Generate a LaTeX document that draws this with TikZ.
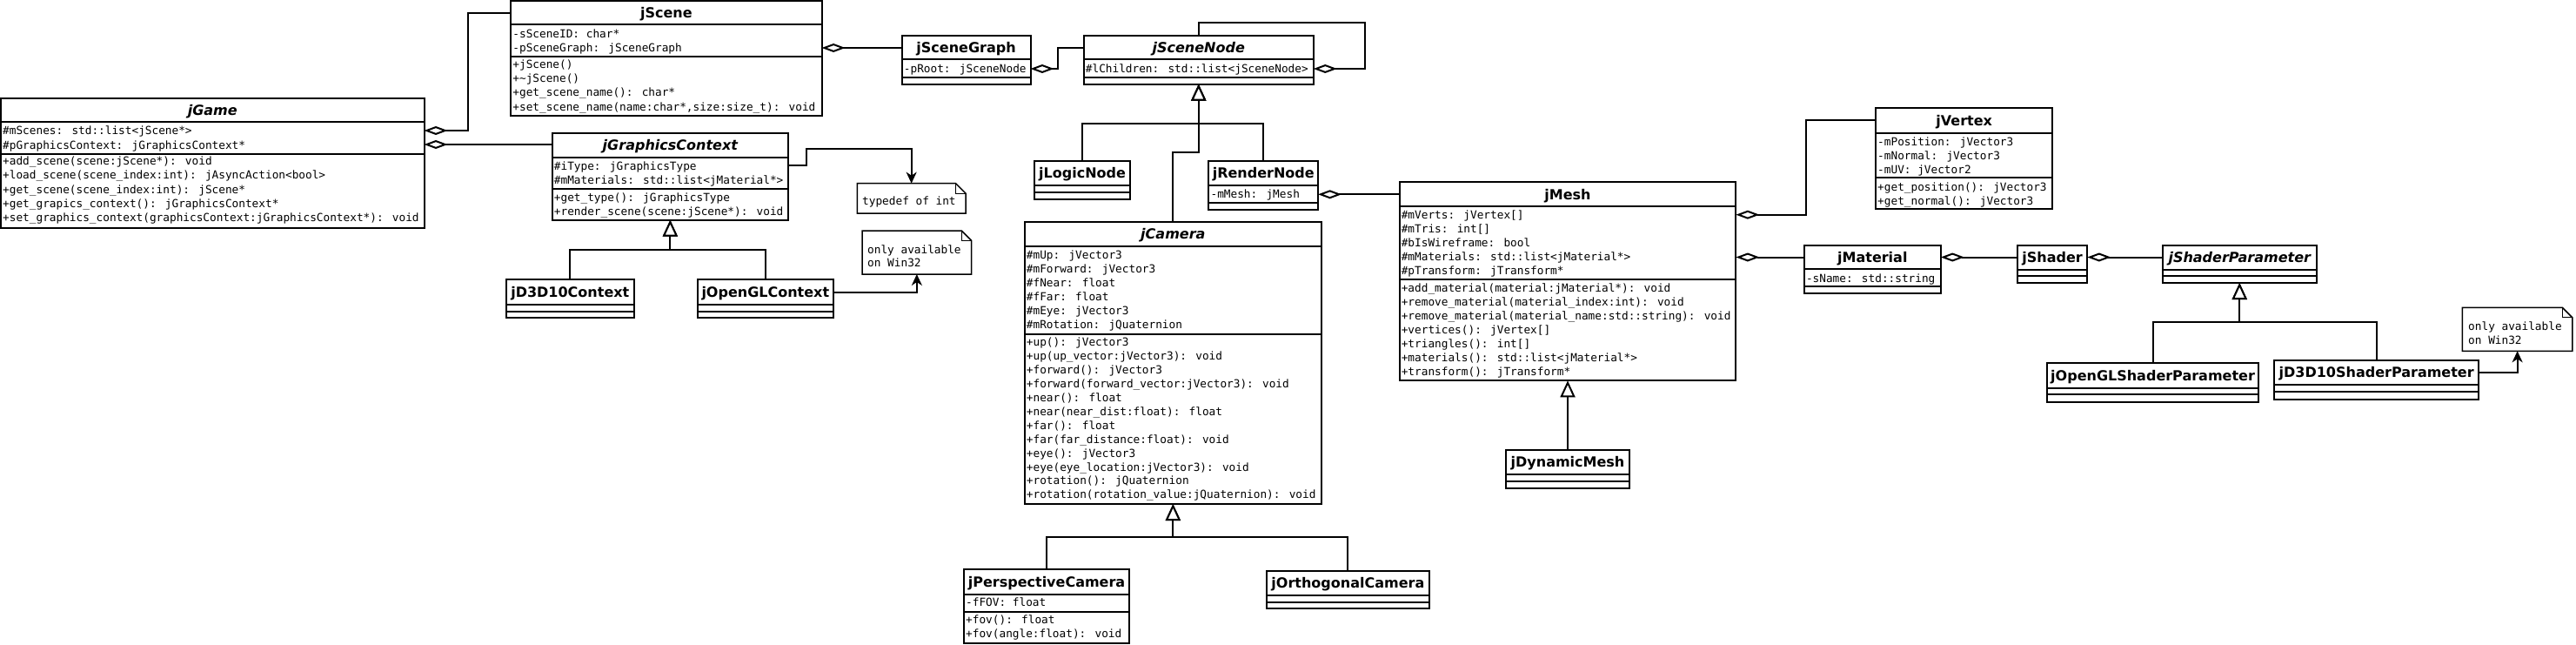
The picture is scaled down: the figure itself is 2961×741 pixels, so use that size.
\documentclass[tikz,border=0pt]{standalone}
\usepackage{fontspec}
\setmainfont{DejaVu Sans}[BoldFont={DejaVu Sans Bold},ItalicFont={DejaVu Sans Oblique},BoldItalicFont={DejaVu Sans Bold Oblique}]
\newfontfamily\monof{DejaVu Sans Mono}
\usetikzlibrary{arrows.meta}
\tikzset{
  box/.style={draw, line width=2pt, outer sep=0pt, inner sep=0pt, fill=white},
  sepline/.style={line width=2pt},
  ttl/.style={anchor=base, inner sep=0pt, font=\fontsize{16}{19}\selectfont\bfseries},
  member/.style={anchor=base west, inner sep=0pt, font=\monof\fontsize{12.75}{15}\selectfont},
  conn/.style={line width=2pt},
  agg/.style={conn, {Diamond[open, fill=white, length=27pt, width=10pt, line width=2pt]}-},
  inh/.style={conn, -{Triangle[open, fill=white, length=19pt, width=17pt, line width=2pt]}},
  dep/.style={conn, -{Stealth[length=13pt, width=12pt, inset=4pt]}},
  notebox/.style={inner sep=0pt, outer sep=0pt},
  noteline/.style={line width=1.5pt, line join=miter},
}
% name, L, T, R, B, header bottom, attribute bottom, title
\newcommand\umlclass[8]{%
  \node[box, anchor=north west, minimum width={(#4)-(#2)}, minimum height={(#5)-(#3)}] (#1) at (#2,#3) {};
  \draw[sepline] (#1.west |- 0,#6) -- (#1.east |- 0,#6);
  \draw[sepline] (#1.west |- 0,#7) -- (#1.east |- 0,#7);
  \node[ttl] (#1-t) at ({((#2)+(#4))/2},{((#3)+(#6))/2+5.8}) {#8};
}
% prefix, x, first row centre y, row step, rows
\newcommand\umlrows[5]{%
  \foreach \rowtxt [count=\ri from 0] in {#5} {\node[member] (#1\ri) at (#2,{(#3)+4.6+\ri*(#4)}) {\rowtxt};}%
}
% name, L, T, R, B, fold
\newcommand\umlnote[6]{%
  \node[notebox, anchor=north west, minimum width={(#4)-(#2)}, minimum height={(#5)-(#3)}] (#1) at (#2,#3) {};
  \draw[noteline] (#1.north west) -- ([xshift=-#6pt]#1.north east) -- ([yshift=-#6pt]#1.north east) -- (#1.south east) -- (#1.south west) -- cycle;
  \draw[line width=1pt] ([xshift=-#6pt]#1.north east) |- ([yshift=-#6pt]#1.north east);
}
\begin{document}
\begin{tikzpicture}[x=1pt,y=-1pt]
\fill[white] (0,0) rectangle (2961,741);
\useasboundingbox (0,0) rectangle (2961,741);

% ---------------- classes ----------------
\umlclass{jGame}{1}{112.7}{487.5}{262}{140}{176.7}{\itshape jGame}
\umlrows{jGame-a}{3}{150}{16.5}{\#mScenes: std::list<jScene*>, \#pGraphicsContext: jGraphicsContext*}
\umlrows{jGame-m}{3}{185}{16.3}{+add\_scene(scene:jScene*): void, +load\_scene(scene\_index:int): jAsyncAction<bool>, +get\_scene(scene\_index:int): jScene*, +get\_grapics\_context(): jGraphicsContext*, +set\_graphics\_context(graphicsContext:jGraphicsContext*): void}

\umlclass{jScene}{587.2}{1}{944.6}{132.7}{28.3}{65}{jScene}
\umlrows{jScene-a}{589.2}{39.3}{16}{-sSceneID: char*, -pSceneGraph: jSceneGraph}
\umlrows{jScene-m}{589.2}{74}{16.2}{+jScene(), +\textasciitilde jScene(), +get\_scene\_name(): char*, {+set\_scene\_name(name:char*,size:size\_t): void}}

\umlclass{jGraphicsContext}{634.7}{152.7}{906}{252.7}{181}{217.3}{\itshape jGraphicsContext}
\umlrows{jGraphicsContext-a}{636.7}{190.7}{16}{\#iType: jGraphicsType, \#mMaterials: std::list<jMaterial*>}
\umlrows{jGraphicsContext-m}{636.7}{226.7}{16}{+get\_type(): jGraphicsType, +render\_scene(scene:jScene*): void}

\umlclass{jD3D10Context}{582}{321}{728.6}{365}{350}{357.7}{jD3D10Context}
\umlclass{jOpenGLContext}{801.8}{321}{957.9}{365}{350}{357.7}{jOpenGLContext}

\umlclass{jSceneGraph}{1036.7}{41}{1184.5}{96.7}{68.3}{89.3}{jSceneGraph}
\umlrows{jSceneGraph-a}{1038.7}{79}{16}{-pRoot: jSceneNode}

\umlclass{jSceneNode}{1245.7}{41}{1509.8}{96.7}{68.3}{89.3}{\itshape jSceneNode}
\umlrows{jSceneNode-a}{1247.7}{79}{16}{\#lChildren: std::list<jSceneNode>}

\umlclass{jLogicNode}{1189.4}{185}{1298.8}{229.3}{213.3}{221}{jLogicNode}
\umlclass{jRenderNode}{1389.4}{185}{1515.1}{241}{213.3}{233.3}{jRenderNode}
\umlrows{jRenderNode-a}{1391.4}{223.3}{16}{-mMesh: jMesh}

\umlclass{jCamera}{1177.7}{255}{1519}{579}{283.3}{384}{\itshape jCamera}
\umlrows{jCamera-a}{1179.7}{292.7}{16.1}{\#mUp: jVector3, \#mForward: jVector3, \#fNear: float, \#fFar: float, \#mEye: jVector3, \#mRotation: jQuaternion}
\umlrows{jCamera-m}{1179.7}{393.3}{15.9}{+up(): jVector3, +up(up\_vector:jVector3): void, +forward(): jVector3, +forward(forward\_vector:jVector3): void, +near(): float, +near(near\_dist:float): float, +far(): float, +far(far\_distance:float): void, +eye(): jVector3, +eye(eye\_location:jVector3): void, +rotation(): jQuaternion, +rotation(rotation\_value:jQuaternion): void}

\umlclass{jPerspectiveCamera}{1108}{654.3}{1298.1}{739.3}{682.7}{702.7}{jPerspectiveCamera}
\umlrows{jPerspectiveCamera-a}{1110}{692.3}{16}{-fFOV: float}
\umlrows{jPerspectiveCamera-m}{1110}{712.3}{16}{+fov(): float, +fov(angle:float): void}

\umlclass{jOrthogonalCamera}{1456.2}{656}{1642.6}{699.3}{684}{691.7}{jOrthogonalCamera}

\umlclass{jMesh}{1608.6}{209.3}{1995.4}{437.3}{237.3}{321}{jMesh}
\umlrows{jMesh-a}{1610.6}{246.7}{16.08}{\#mVerts: jVertex[], \#mTris: int[], \#bIsWireframe: bool, \#mMaterials: std::list<jMaterial*>, \#pTransform: jTransform*}
\umlrows{jMesh-m}{1610.6}{331}{15.95}{+add\_material(material:jMaterial*): void, +remove\_material(material\_index:int): void, +remove\_material(material\_name:std::string): void, +vertices(): jVertex[], +triangles(): int[], +materials(): std::list<jMaterial*>, +transform(): jTransform*}

\umlclass{jDynamicMesh}{1731.3}{516.7}{1872.7}{561}{545.3}{552.7}{jDynamicMesh}

\umlclass{jVertex}{2156}{124.3}{2359.3}{240}{152.7}{204}{jVertex}
\umlrows{jVertex-a}{2158}{162.7}{16.2}{-mPosition: jVector3, -mNormal: jVector3, -mUV: jVector2}
\umlrows{jVertex-m}{2158}{215}{15.7}{+get\_position(): jVector3, +get\_normal(): jVector3}

\umlclass{jMaterial}{2073.8}{281.7}{2230.8}{336.7}{309.3}{329}{jMaterial}
\umlrows{jMaterial-a}{2075.8}{320}{16}{-sName: std::string}

\umlclass{jShader}{2319}{281.7}{2399.3}{325}{310}{317.3}{jShader}
\umlclass{jShaderParameter}{2486}{281.7}{2662.5}{325}{310}{317.3}{\itshape jShaderParameter}
\umlclass{jOpenGLShaderParameter}{2352.7}{416.7}{2596.4}{461.7}{445.7}{453.3}{jOpenGLShaderParameter}
\umlclass{jD3D10ShaderParameter}{2614}{414}{2849.3}{459}{442.3}{450}{jD3D10ShaderParameter}

% ---------------- notes ----------------
\umlnote{note1}{985.3}{210.7}{1110}{245}{11.5}
\node[member] (note1-t0) at (991,235.6) {typedef of int};
\umlnote{note2}{991}{265}{1116.7}{315}{11.5}
\umlrows{note2-t}{997}{286.7}{15.6}{only available, on Win32}
\umlnote{note3}{2830.4}{353.3}{2956.8}{403.3}{11.5}
\umlrows{note3-t}{2837}{375}{16}{only available, on Win32}

% ---------------- aggregations ----------------
\draw[agg] (jGame.east |- 0,150) -| (537.5,15) -- (jScene.west |- 0,15);
\draw[agg] (jGame.east |- 0,166) -- (jGraphicsContext.west |- 0,166);
\draw[agg] (jScene.east |- 0,55) -- (jSceneGraph.west |- 0,55);
\draw[agg] (jSceneGraph.east |- 0,79) -- (1216,79) |- (jSceneNode.west |- 0,55);
\draw[agg] (jSceneNode.east |- 0,79) -- (1569,79) |- (jSceneNode.north |- 0,26) -- (jSceneNode.north);
\draw[agg] (jRenderNode.east |- 0,223.3) -- (jMesh.west |- 0,223.3);
\draw[agg] (jMesh.east |- 0,246.7) -| (2076,138.5) -- (jVertex.west |- 0,138.5);
\draw[agg] (jMesh.east |- 0,295.5) -- (jMaterial.west |- 0,295.5);
\draw[agg] (jMaterial.east |- 0,295.5) -- (jShader.west |- 0,295.5);
\draw[agg] (jShader.east |- 0,295.5) -- (jShaderParameter.west |- 0,295.5);

% ---------------- dependencies to notes ----------------
\draw[dep] (jGraphicsContext.east |- 0,190) -- (927.4,190) |- (note1.north |- 0,171) -- (note1.north);
\draw[dep] (jOpenGLContext.east |- 0,335.5) -| (note2.south);
\draw[dep] (jD3D10ShaderParameter.east |- 0,428.2) -| (note3.south);

% ---------------- generalisations ----------------
\coordinate (b1) at (jGraphicsContext.south |- 0,286.7);
\draw[inh] (jD3D10Context.north) |- (b1) -- (jGraphicsContext.south);
\draw[inh] (jOpenGLContext.north) |- (b1) -- (jGraphicsContext.south);

\coordinate (b2) at (jSceneNode.south |- 0,141.7);
\coordinate (b2c) at (jSceneNode.south |- 0,175);
\draw[inh] (jLogicNode.north) |- (b2) -- (jSceneNode.south);
\draw[inh] (jRenderNode.north) |- (b2) -- (jSceneNode.south);
\draw[inh] (jCamera.north) |- (b2c) -- (jSceneNode.south);

\coordinate (b3) at (jCamera.south |- 0,616.7);
\draw[inh] (jPerspectiveCamera.north) |- (b3) -- (jCamera.south);
\draw[inh] (jOrthogonalCamera.north) |- (b3) -- (jCamera.south);

\draw[inh] (jDynamicMesh.north) -- (jMesh.south);

\coordinate (b4) at (jShaderParameter.south |- 0,370);
\draw[inh] (jOpenGLShaderParameter.north) |- (b4) -- (jShaderParameter.south);
\draw[inh] (jD3D10ShaderParameter.north) |- (b4) -- (jShaderParameter.south);
\end{tikzpicture}
\end{document}
